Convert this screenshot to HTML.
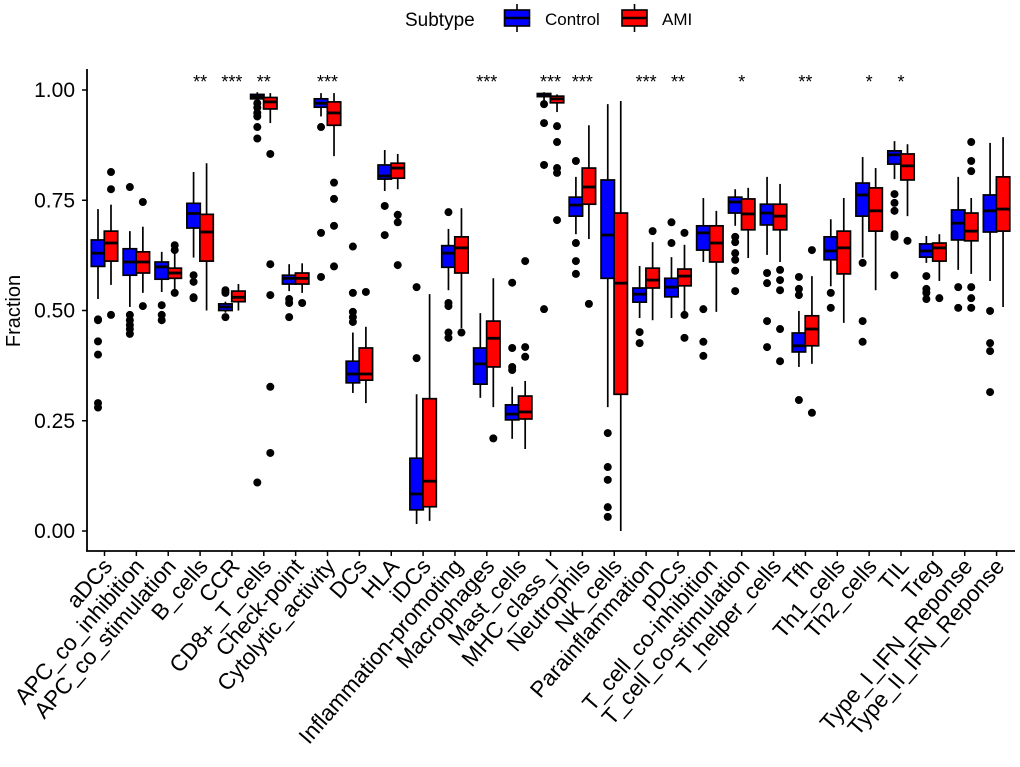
<!DOCTYPE html>
<html><head><meta charset="utf-8">
<style>
body{margin:0;background:#fff;}
svg{display:block;font-family:"Liberation Sans",Arial,sans-serif;}
</style></head>
<body>
<svg id="chart" width="1020" height="767">
<g id="legend">
  <text x="405" y="26" font-size="19" fill="#000">Subtype</text>
  <g>
    <line x1="517" y1="4" x2="517" y2="32" stroke="#000" stroke-width="1.6"/>
    <rect x="504.5" y="10" width="25" height="16" fill="#0000ff" stroke="#000" stroke-width="1.6"/>
    <line x1="504.5" y1="18" x2="529.5" y2="18" stroke="#000" stroke-width="2.5"/>
    <text x="545" y="25" font-size="17" fill="#000">Control</text>
  </g>
  <g>
    <line x1="634.5" y1="4" x2="634.5" y2="32" stroke="#000" stroke-width="1.6"/>
    <rect x="622" y="10" width="25" height="16" fill="#ff0000" stroke="#000" stroke-width="1.6"/>
    <line x1="622" y1="18" x2="647" y2="18" stroke="#000" stroke-width="2.5"/>
    <text x="662" y="25" font-size="17" fill="#000">AMI</text>
  </g>
</g>
<g id="plot"></g>
</svg>
<script>
const categories=["aDCs","APC_co_inhibition","APC_co_stimulation","B_cells","CCR","CD8+_T_cells","Check-point","Cytolytic_activity","DCs","HLA","iDCs","Inflammation-promoting","Macrophages","Mast_cells","MHC_class_I","Neutrophils","NK_cells","Parainflammation","pDCs","T_cell_co-inhibition","T_cell_co-stimulation","T_helper_cells","Tfh","Th1_cells","Th2_cells","TIL","Treg","Type_I_IFN_Reponse","Type_II_IFN_Reponse"];
const significance=["","","","**","***","**","","***","","","","","***","","***","***","","***","**","","*","","**","","*","*","","",""];
// [whiskerLow, q1, median, q3, whiskerHigh]
const controlStats=[
[0.526,0.60,0.63,0.66,0.73],[0.508,0.58,0.61,0.64,0.68],[0.542,0.571,0.599,0.61,0.633],[0.62,0.687,0.72,0.743,0.814],[0.495,0.50,0.508,0.515,0.52],
[0.975,0.98,0.985,0.99,0.995],[0.544,0.56,0.573,0.58,0.605],[0.94,0.961,0.97,0.98,0.993],[0.313,0.336,0.356,0.385,0.45],[0.771,0.798,0.805,0.83,0.864],
[0.016,0.048,0.084,0.165,0.31],[0.546,0.598,0.63,0.647,0.685],[0.302,0.333,0.379,0.415,0.494],[0.209,0.252,0.265,0.286,0.327],[0.975,0.985,0.99,0.992,0.995],
[0.673,0.714,0.739,0.757,0.803],[0.281,0.573,0.671,0.796,0.968],[0.483,0.519,0.537,0.551,0.601],[0.483,0.531,0.553,0.573,0.621],[0.61,0.637,0.676,0.692,0.755],
[0.692,0.721,0.746,0.757,0.775],[0.626,0.694,0.721,0.741,0.803],[0.372,0.406,0.42,0.449,0.499],[0.555,0.615,0.635,0.667,0.707],[0.62,0.714,0.762,0.789,0.848],
[0.798,0.832,0.853,0.862,0.884],[0.608,0.621,0.635,0.651,0.669],[0.592,0.66,0.698,0.728,0.803],[0.567,0.678,0.726,0.762,0.88]];
const amiStats=[
[0.558,0.612,0.653,0.68,0.74],[0.54,0.585,0.61,0.633,0.69],[0.546,0.573,0.585,0.596,0.63],[0.50,0.612,0.678,0.718,0.834],[0.50,0.52,0.53,0.544,0.56],
[0.925,0.957,0.973,0.983,0.993],[0.54,0.56,0.573,0.585,0.607],[0.85,0.92,0.948,0.973,0.993],[0.29,0.342,0.356,0.415,0.463],[0.775,0.80,0.823,0.834,0.855],
[0.023,0.055,0.113,0.30,0.537],[0.46,0.585,0.642,0.667,0.732],[0.281,0.372,0.437,0.476,0.573],[0.186,0.254,0.27,0.306,0.34],[0.95,0.971,0.98,0.986,0.99],
[0.662,0.741,0.78,0.823,0.92],[0.0,0.31,0.562,0.721,0.975],[0.478,0.551,0.569,0.596,0.655],[0.494,0.556,0.578,0.594,0.649],[0.497,0.61,0.653,0.692,0.726],
[0.619,0.683,0.719,0.753,0.778],[0.61,0.683,0.714,0.741,0.787],[0.379,0.42,0.458,0.488,0.578],[0.472,0.583,0.642,0.68,0.755],[0.546,0.68,0.726,0.778,0.823],
[0.714,0.796,0.828,0.855,0.877],[0.567,0.612,0.642,0.653,0.673],[0.583,0.658,0.68,0.721,0.755],[0.508,0.68,0.73,0.803,0.893]];
const controlOutliers=[
[0.48,0.478,0.43,0.40,0.29,0.28],[0.78,0.49,0.478,0.467,0.458,0.447],[0.512,0.49,0.478],[0.58,0.565,0.53,0.528],[0.546,0.54,0.485],
[0.97,0.96,0.948,0.94,0.916,0.89,0.11],[0.526,0.517,0.485],[0.916,0.676,0.576],[0.645,0.54,0.497,0.485,0.474],[0.737,0.671],
[0.553,0.392],[0.723,0.517,0.51,0.45,0.438],[],[0.563,0.415,0.372,0.365],[0.968,0.925,0.83,0.503],
[0.839,0.653,0.612,0.583],[0.222,0.145,0.116,0.054,0.032],[0.451,0.426],[0.70,0.653],[0.503,0.429,0.397],
[0.667,0.655,0.63,0.615,0.59,0.544],[0.585,0.562,0.476,0.417],[0.576,0.549,0.535,0.297],[0.54,0.506],[0.608,0.476,0.429],
[0.764,0.744,0.726,0.673,0.667,0.58],[0.578,0.549,0.54,0.526],[0.553,0.506],[0.499,0.426,0.408,0.315]];
const amiOutliers=[
[0.814,0.775,0.49],[0.746,0.51],[0.648,0.637,0.54],[],[],
[0.855,0.605,0.535,0.327,0.177],[0.517],[0.79,0.753,0.692,0.60],[0.542],[0.717,0.70,0.603],
[],[0.45],[0.21],[0.612,0.417,0.395],[0.918,0.882,0.823,0.812,0.705],
[0.515],[],[0.68],[0.676,0.49,0.438],[],
[],[0.592,0.569,0.546,0.458,0.385],[0.637,0.268],[],[],
[0.658],[0.528],[0.882,0.839,0.816,0.553,0.528,0.506],[]];
const yTicks=[0,0.25,0.5,0.75,1.0];
const yTickLabels=["0.00","0.25","0.50","0.75","1.00"];

const NS="http://www.w3.org/2000/svg";
const plot=document.getElementById('plot');
const y=v=>531-441*v;
const x=i=>104.5+31.86*i;
function mk(tag,attrs,parent){const e=document.createElementNS(NS,tag);for(const k in attrs)e.setAttribute(k,attrs[k]);(parent||plot).appendChild(e);return e;}

const yAxis=mk('line',{x1:87,y1:69,x2:87,y2:551,stroke:'#000','stroke-width':1.8});


const xAxis=mk('line',{x1:86,y1:551,x2:1015,y2:551,stroke:'#000','stroke-width':1.8});


yTicks.forEach((t,i)=>{
  mk('line',{x1:82,y1:y(t),x2:87,y2:y(t),stroke:'#000','stroke-width':1.5});
  const tx=mk('text',{x:75,y:y(t)+7,'font-size':21,'text-anchor':'end',fill:'#000'});
  tx.textContent=yTickLabels[i];
  
  
});
const yt=mk('text',{x:0,y:0,'font-size':20,'text-anchor':'middle',fill:'#000',transform:'translate(20,311) rotate(-90)'});
yt.textContent='Fraction';



function drawBox(cx,s,outs,color,name){
  const g=mk('g',{});
  
  
  const hw=6.7;
  mk('line',{x1:cx,y1:y(s[0]),x2:cx,y2:y(s[4]),stroke:'#000','stroke-width':1.7},g);
  mk('rect',{x:cx-hw,y:y(s[3]),width:2*hw,height:Math.max(1,y(s[1])-y(s[3])),fill:color,stroke:'#000','stroke-width':1.7},g);
  mk('line',{x1:cx-hw,y1:y(s[2]),x2:cx+hw,y2:y(s[2]),stroke:'#000','stroke-width':2.8},g);
  outs.forEach(o=>{mk('circle',{cx:cx,cy:y(o),r:4,fill:'#000'},g);});
}
categories.forEach((c,i)=>{
  const cx=x(i);
  mk('line',{x1:cx,y1:551,x2:cx,y2:556,stroke:'#000','stroke-width':1.5});
  drawBox(cx-6.5,controlStats[i],controlOutliers[i],'#0000ff','box-control-'+i);
  drawBox(cx+6.5,amiStats[i],amiOutliers[i],'#ff0000','box-ami-'+i);
  const lab=mk('text',{x:0,y:0,'font-size':22.5,'text-anchor':'end',fill:'#000',transform:`translate(${cx+9},${567}) rotate(-49)`});
  lab.textContent=c;
  
  
  if(significance[i]){
    const st=mk('text',{x:cx,y:88,'font-size':18,'text-anchor':'middle',fill:'#000'});
    st.textContent=significance[i];
    
    
  }
});
</script>
</body></html>
